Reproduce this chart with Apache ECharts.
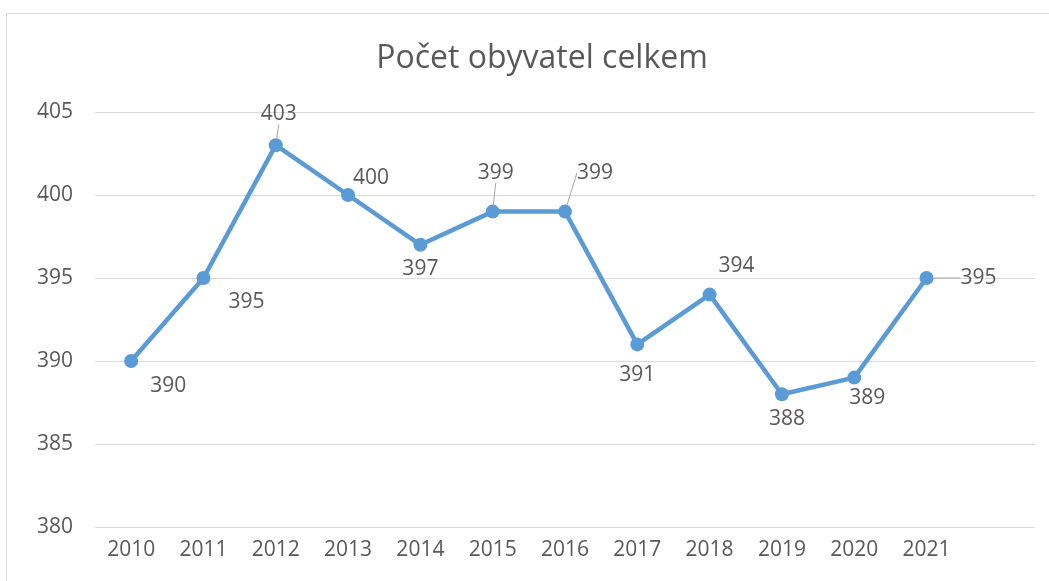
<!DOCTYPE html>
<html>
<head>
<meta charset="utf-8">
<script src="https://cdn.jsdelivr.net/npm/echarts@6/dist/echarts.min.js"></script>
<style>html,body{margin:0;padding:0;background:#fff;}#c{width:1049px;height:581px;}</style>
</head>
<body>
<div id="c"></div>
<script>
const titleText = 'Počet obyvatel celkem';
const categories = ['2010','2011','2012','2013','2014','2015','2016','2017','2018','2019','2020','2021'];
const population = [390, 395, 403, 400, 397, 399, 399, 391, 394, 388, 389, 395];
const yTicks = [380, 385, 390, 395, 400, 405];

// label placement (style only): [dx, dy, showLeaderLine]
const labelOffsets = [
  [37, 25, false], [43, 24, false], [3, -31, true], [23, -17, false],
  [0, 24, false], [3, -39, true], [30, -39, true], [0, 31, false],
  [27, -29, false], [5, 25, false], [13, 20, false], [52, 0, true]
];

const FONT = 'Open Sans';
const TXT = '#595959';
const chart = echarts.init(document.getElementById('c'));
chart.setOption({
  animation: false,
  textStyle: { fontFamily: FONT },
  title: {
    text: titleText, left: 537, top: 38, textAlign: 'center',
    textStyle: { fontFamily: FONT, fontSize: 32, fontWeight: 'normal', color: TXT }
  },
  graphic: [{
    type: 'rect', left: 4, top: 11, silent: true, z: -1,
    shape: { width: 1100, height: 650 },
    style: { fill: 'none', stroke: '#d9d9d9', lineWidth: 1 }
  }],
  grid: { left: 95, right: 14, top: 112, bottom: 54, containLabel: false },
  xAxis: {
    type: 'category', boundaryGap: true,
    data: categories.concat(['']),
    axisLine: { show: false }, axisTick: { show: false },
    axisLabel: { color: TXT, fontSize: 21, margin: 13, fontFamily: FONT }
  },
  yAxis: {
    type: 'value', min: yTicks[0], max: yTicks[yTicks.length - 1], interval: 5,
    axisLine: { show: false }, axisTick: { show: false },
    axisLabel: { color: TXT, fontSize: 21, margin: 22, fontFamily: FONT },
    splitLine: { lineStyle: { color: '#d9d9d9', width: 1 } }
  },
  series: [{
    type: 'line',
    data: population.map((v, i) => ({
      value: v,
      labelLine: { show: labelOffsets[i][2] }
    })),
    symbol: 'circle', symbolSize: 14,
    lineStyle: { color: '#5b9bd5', width: 4.5 },
    itemStyle: { color: '#5b9bd5' },
    label: { show: true, position: 'inside', color: TXT, fontSize: 21, fontFamily: FONT },
    labelLine: { show: false, lineStyle: { color: '#a6a6a6', width: 1 } },
    labelLayout: function (p) {
      const o = labelOffsets[p.dataIndex];
      return { dx: o[0], dy: o[1] };
    }
  }]
});
</script>
</body>
</html>
